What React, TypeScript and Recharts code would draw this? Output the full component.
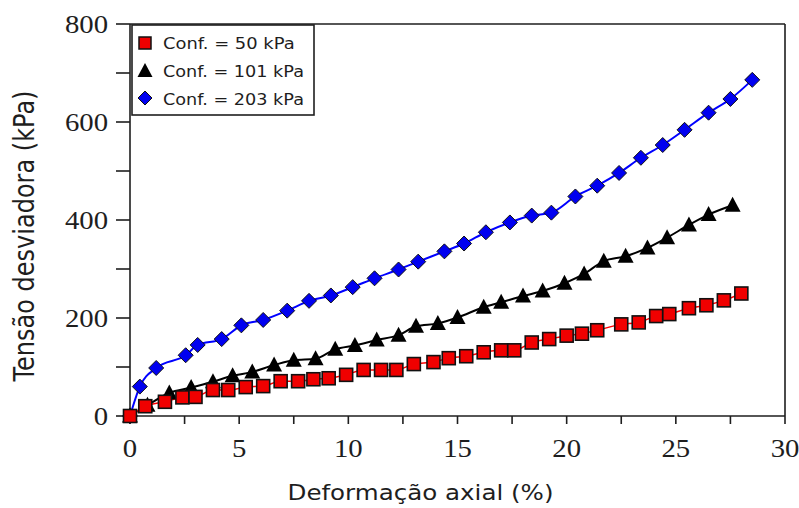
import React from 'react';
import { LineChart, Line, XAxis, YAxis, ReferenceLine } from 'recharts';

// Deformação axial (%) e tensão desviadora (kPa) para cada confinante
const strain50 = [0, 0.7, 1.6, 2.4, 3.0, 3.8, 4.5, 5.3, 6.1, 6.9, 7.7, 8.4, 9.1, 9.9, 10.7, 11.5, 12.2, 13.0, 13.9, 14.6, 15.4, 16.2, 17.0, 17.6, 18.4, 19.2, 20.0, 20.7, 21.4, 22.5, 23.3, 24.1, 24.7, 25.6, 26.4, 27.2, 28.0];
const stress50 = [0, 20, 29, 38, 39, 53, 53, 59, 61, 71, 71, 75, 77, 84, 94, 94, 94, 106, 110, 118, 122, 130, 134, 134, 150, 157, 164, 168, 175, 187, 191, 204, 208, 220, 226, 236, 250];

const strain101 = [0, 0.8, 1.8, 2.8, 3.8, 4.7, 5.6, 6.6, 7.5, 8.5, 9.4, 10.3, 11.3, 12.3, 13.1, 14.1, 15.0, 16.2, 17.0, 18.0, 18.9, 19.9, 20.8, 21.7, 22.7, 23.7, 24.6, 25.6, 26.5, 27.6];
const stress101 = [0, 22, 47, 58, 70, 82, 90, 104, 114, 117, 136, 144, 155, 165, 183, 189, 201, 222, 232, 245, 255, 271, 290, 316, 326, 343, 364, 390, 411, 430];

const strain203 = [0, 0.45, 1.2, 2.55, 3.1, 4.2, 5.1, 6.1, 7.2, 8.2, 9.2, 10.2, 11.2, 12.3, 13.2, 14.4, 15.3, 16.3, 17.4, 18.4, 19.3, 20.4, 21.4, 22.4, 23.4, 24.4, 25.4, 26.5, 27.5, 28.5];
const stress203 = [0, 60, 98, 124, 145, 157, 185, 196, 215, 235, 246, 263, 281, 299, 315, 336, 352, 375, 395, 409, 415, 448, 470, 496, 527, 553, 584, 619, 647, 686];

const xTicks = [0, 2.5, 5, 7.5, 10, 12.5, 15, 17.5, 20, 22.5, 25, 27.5, 30];
const yTicks = [0, 100, 200, 300, 400, 500, 600, 700, 800];

const legendLabels = ['Conf. = 50 kPa', 'Conf. = 101 kPa', 'Conf. = 203 kPa'];

const zip = (xs: number[], ys: number[]) => xs.map((x, i) => ({ x, y: ys[i] }));

const data50 = zip(strain50, stress50);
const data101 = zip(strain101, stress101);
const data203 = zip(strain203, stress203);

const INK = '#1e1e1e';

const SquareDot = (props: any) => {
  const { cx, cy } = props;
  if (cx == null || cy == null) return null;
  return <rect x={cx - 6.5} y={cy - 6.5} width={13} height={13} fill="#f00000" stroke="#111" strokeWidth={1.6} />;
};

const TriangleDot = (props: any) => {
  const { cx, cy } = props;
  if (cx == null || cy == null) return null;
  return <polygon points={`${cx},${cy - 8.5} ${cx + 8},${cy + 6.5} ${cx - 8},${cy + 6.5}`} fill="#000" />;
};

const DiamondDot = (props: any) => {
  const { cx, cy } = props;
  if (cx == null || cy == null) return null;
  return (
    <polygon
      points={`${cx},${cy - 7.5} ${cx + 7.5},${cy} ${cx},${cy + 7.5} ${cx - 7.5},${cy}`}
      fill="#0000f0"
      stroke="#111"
      strokeWidth={1}
    />
  );
};

// serif tick labels, a little wider than the plain face
const SerifTick = (props: any) => {
  const { x, y, payload, textAnchor, step, vertical } = props;
  if (payload.value % step !== 0) return null;
  return (
    <g transform={`translate(${x},${y}) scale(1.15,1)`}>
      <text
        textAnchor={textAnchor}
        dy={vertical ? '0.35em' : '0.71em'}
        style={{ fontFamily: 'Liberation Serif', fontSize: 25, fill: INK }}
      >
        {payload.value}
      </text>
    </g>
  );
};

const LegendBox = () => (
  <svg width={184} height={92} style={{ position: 'absolute', left: 131, top: 24 }}>
    <rect x={1} y={1} width={182} height={90} fill="#fff" stroke={INK} strokeWidth={1.6} />
    <rect x={8} y={13} width={12} height={12} fill="#f00000" stroke="#111" strokeWidth={1.5} />
    <polygon points="14,39 21.5,53 6.5,53" fill="#000" />
    <polygon points="14,67 21,74 14,81 7,74" fill="#0000f0" stroke="#111" strokeWidth={1} />
    {legendLabels.map((label, i) => (
      <text
        key={label}
        x={32}
        y={19 + i * 28}
        dominantBaseline="central"
        textLength={label.length * 9.4}
        lengthAdjust="spacingAndGlyphs"
        style={{ fontFamily: 'DejaVu Sans', fontSize: 16, fill: INK }}
      >
        {label}
      </text>
    ))}
  </svg>
);

export default function App() {
  return (
    <div style={{ position: 'absolute', left: 0, top: 0, width: 799, height: 508, background: '#fff' }}>
      <LineChart width={799} height={508} margin={{ top: 24, right: 14, bottom: 0, left: 0 }}>
        <XAxis
          type="number"
          dataKey="x"
          domain={[0, 30]}
          ticks={xTicks}
          interval={0}
          tick={<SerifTick step={5} />}
          tickSize={8}
          tickMargin={15}
          height={92}
          stroke={INK}
          strokeWidth={1.6}
          label={{
            content: ({ viewBox }: any) => (
              <text
                x={viewBox.x + viewBox.width / 2 - 37}
                y={500}
                textAnchor="middle"
                textLength={266}
                lengthAdjust="spacingAndGlyphs"
                style={{ fontFamily: 'DejaVu Sans', fontSize: 21, fill: INK }}
              >
                Deformação axial (%)
              </text>
            ),
          }}
        />
        <YAxis
          type="number"
          dataKey="y"
          domain={[0, 800]}
          ticks={yTicks}
          interval={0}
          tick={<SerifTick step={200} vertical />}
          tickSize={14}
          tickMargin={8}
          width={130}
          stroke={INK}
          strokeWidth={1.6}
          label={{
            content: ({ viewBox }: any) => {
              const cx = viewBox.x + 24;
              const cy = viewBox.y + viewBox.height / 2 + 16;
              return (
                <g transform={`translate(${cx},${cy}) scale(1.15,1) rotate(-90)`}>
                  <text
                    textAnchor="middle"
                    dominantBaseline="central"
                    style={{ fontFamily: 'DejaVu Sans', fontSize: 24, fill: INK }}
                  >
                    Tensão desviadora (kPa)
                  </text>
                </g>
              );
            },
          }}
        />
        <ReferenceLine y={800} stroke={INK} strokeWidth={1.6} />
        <ReferenceLine x={30} stroke={INK} strokeWidth={1.6} />
        <Line
          data={data203}
          dataKey="y"
          type="monotone"
          stroke="#0000ff"
          strokeWidth={2}
          dot={<DiamondDot />}
          activeDot={false}
          isAnimationActive={false}
        />
        <Line
          data={data101}
          dataKey="y"
          type="monotone"
          stroke="#000"
          strokeWidth={2}
          dot={<TriangleDot />}
          activeDot={false}
          isAnimationActive={false}
        />
        <Line
          data={data50}
          dataKey="y"
          type="monotone"
          stroke="#ff0000"
          strokeWidth={1.5}
          dot={<SquareDot />}
          activeDot={false}
          isAnimationActive={false}
        />
      </LineChart>
      <LegendBox />
    </div>
  );
}
